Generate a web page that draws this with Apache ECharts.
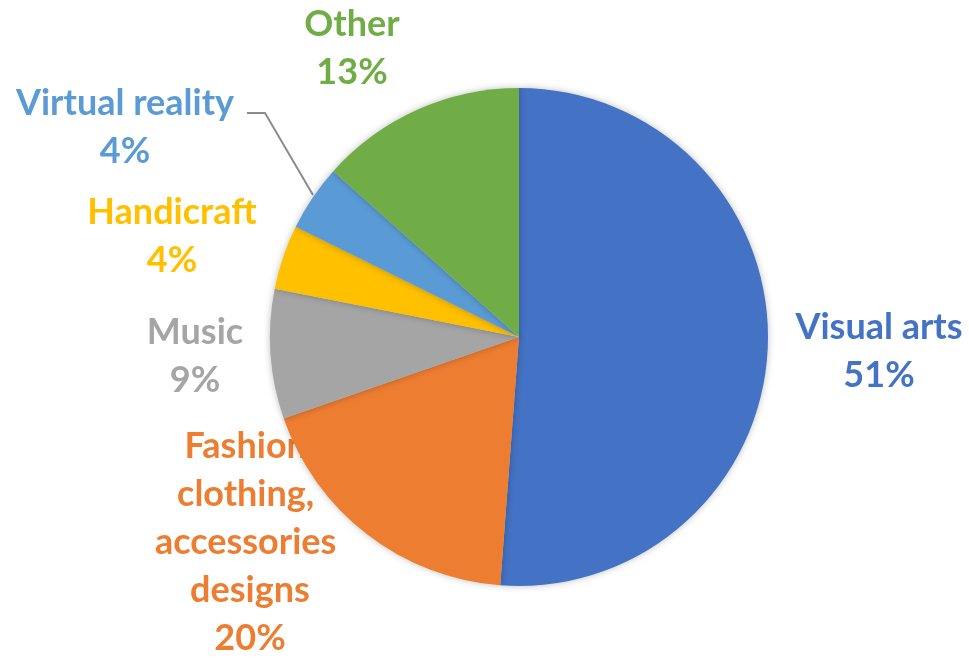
<!DOCTYPE html>
<html><head><meta charset="utf-8">
<script src="https://cdn.jsdelivr.net/npm/echarts@6/dist/echarts.min.js"></script>
<style>html,body{margin:0;padding:0;background:#fff}#c{width:969px;height:659px}</style>
</head><body><div id="c"></div>
<script>
const categories = ['Visual arts', 'Fashion clothing, accessories designs', 'Music', 'Handicraft', 'Virtual reality', 'Other'];
// slice sizes as drawn (share of the full circle, %)
const values = [51.2, 18.5, 8.4, 4.2, 4.3, 13.4];
// percentages printed in the labels
const pctLabels = ['51%', '20%', '9%', '4%', '4%', '13%'];
const colors = ['#4472C4', '#ED7D31', '#A5A5A5', '#FFC000', '#5B9BD5', '#70AD47'];
// label block centres (x, y) in pixels
const labelPos = [[879, 351], [250, 542], [195, 356], [172, 236], [125, 127], [352, 48]];

const common = {
  type: 'pie',
  center: [519, 337],
  radius: 249,
  startAngle: 90,
  clockwise: true,
  avoidLabelOverlap: false,
  silent: true
};

const chart = echarts.init(document.getElementById('c'));
chart.setOption({
  animation: false,
  series: [
    // labels layer (underneath the pie, so the pie can cover text)
    Object.assign({}, common, {
      z: 1,
      itemStyle: { color: 'rgba(0,0,0,0)' },
      label: {
        show: true,
        position: 'outside',
        fontFamily: 'Lato',
        fontWeight: 'bold',
        fontSize: 36,
        lineHeight: 48,
        align: 'center',
        formatter: p => p.name + '\n' + pctLabels[p.dataIndex]
      },
      labelLine: { show: false },
      labelLayout: function (params) {
        const i = params.dataIndex;
        const r = { x: labelPos[i][0], y: labelPos[i][1], align: 'center', verticalAlign: 'middle' };
        if (i === 4) {
          r.labelLinePoints = [[313, 195], [265, 113], [247, 113]];
        }
        return r;
      },
      data: categories.map((n, i) => {
        const d = { name: n, value: values[i], label: { color: colors[i] } };
        if (i === 1) { d.label.width = 210; d.label.overflow = 'break'; }
        if (i === 4) {
          d.labelLine = { show: true, length: 10, length2: 10, lineStyle: { color: '#8C8C8C', width: 2 } };
        }
        return d;
      })
    }),
    // pie sectors on top
    Object.assign({}, common, {
      z: 2,
      itemStyle: { shadowBlur: 7, shadowColor: 'rgba(0,0,0,0.25)' },
      label: { show: false },
      labelLine: { show: false },
      data: categories.map((n, i) => ({ name: n, value: values[i], itemStyle: { color: colors[i] } }))
    })
  ]
});
</script></body></html>
